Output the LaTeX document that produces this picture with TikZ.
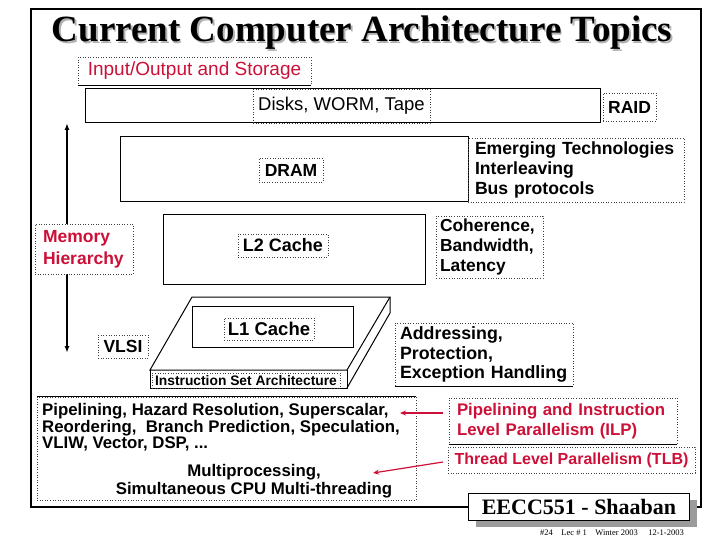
\documentclass[tikz,border=0pt]{standalone}
\usepackage{fontspec}
\setmainfont{Liberation Sans}
\newfontfamily\titlefont{Liberation Serif}
\usetikzlibrary{arrows.meta}
\definecolor{hred}{RGB}{204,16,56}
\definecolor{shadowgray}{RGB}{155,155,155}
\newcommand{\fsz}[2]{\fontsize{#1}{#2}\selectfont}
\begin{document}
\begin{tikzpicture}[x=1pt,y=-1pt,
  tbox/.style={draw=black!75, dotted, line width=0.6pt, inner sep=0pt},
  sbox/.style={draw=black, line width=1pt, inner sep=0pt},
  btxt/.style={font=\bfseries\fsz{17.5}{20}},
  redarrow/.style={draw=hred, line width=1.2pt, -{Stealth[length=6pt,width=5pt]}},
  ]
\useasboundingbox (0,0) rectangle (720,540);
% outer frame
\draw[line width=2.5pt] (31,507) -- (31,9) -- (701,9) -- (701,507) -- cycle;
% title (with light drop shadow)
\node[font=\titlefont\bfseries\fsz{37}{37}, anchor=base, text=black!30] (titleshadow) at (363.5,43.5) {Current Computer Architecture Topics};
\node[font=\titlefont\bfseries\fsz{37}{37}, anchor=base] (title) at (362,42) {Current Computer Architecture Topics};
% I/O
\node[tbox, minimum width=233pt, minimum height=28pt, text=hred, font=\fsz{19}{22}] (io) at (194.5,71) {Input/Output and Storage};
\draw[line width=0.6pt] (io.south west) -- (io.south east);
\node[sbox, minimum width=515pt, minimum height=34pt] (disksbox) at (342.5,106) {};
\node[tbox, minimum width=177pt, minimum height=34pt, font=\fsz{18.5}{20}] (disks) at (341.5,106) {Disks, WORM, Tape};
\node[tbox, minimum width=53pt, minimum height=28pt, btxt] (raid) at (629.5,107) {RAID};
% DRAM
\node[sbox, minimum width=348pt, minimum height=65pt] (drambox) at (294,169.5) {};
\node[tbox, minimum width=64pt, minimum height=24pt, btxt] (dram) at (291,170) {DRAM};
\node[tbox, minimum height=64pt, text width=202pt, inner xsep=7pt, align=left, font=\bfseries\fsz{17.6}{20}] (emerg) at (576,170) {Emerging Technologies\\Interleaving\\Bus protocols};
% vertical arrow
\coordinate (atop) at (67,123);
\coordinate (abot) at (67,353);
\draw[line width=1.8pt, {Latex[length=7pt,width=5pt]}-{Latex[length=7pt,width=5pt]}] (atop) -- (abot);
\node[tbox, fill=white, minimum height=50pt, text width=82pt, inner xsep=8pt, align=left, text=hred, font=\bfseries\fsz{17.5}{22}] (mem) at (84,249) {Memory\\Hierarchy};
% L2
\node[sbox, minimum width=262pt, minimum height=69pt] (l2box) at (294,249.5) {};
\node[tbox, minimum width=90pt, minimum height=23pt, font=\bfseries\fsz{18}{20}] (l2) at (283,245.5) {L2 Cache};
\node[tbox, minimum height=62pt, text width=99pt, inner xsep=4pt, align=left, font=\bfseries\fsz{17.4}{20}] (coh) at (489.5,247) {Coherence,\\Bandwidth,\\Latency};
% VLSI
\node[tbox, minimum width=50pt, minimum height=23pt, btxt] (vlsi) at (123,346.5) {VLSI};
% ISA slab
\draw[line width=1pt] (192,297) -- (390,297) -- (347,370) -- (150,370) -- cycle;
\draw[line width=1pt] (150,370) -- (150,388) -- (347,388) -- (347,370);
\draw[line width=1pt] (390,297) -- (390,313) -- (347,388);
\node[sbox, minimum width=161pt, minimum height=41pt] (l1box) at (272.5,326.5) {};
\node[tbox, minimum width=90pt, minimum height=22pt, font=\bfseries\fsz{18.5}{20}] (l1) at (269,329) {L1 Cache};
\node[tbox, minimum width=188pt, minimum height=15pt, font=\bfseries\fsz{13.8}{15}] (isa) at (246,380.5) {Instruction Set Architecture};
% Addressing
\node[tbox, minimum height=63pt, text width=168pt, inner xsep=5pt, align=left, font=\bfseries\fsz{17.8}{19.5}] (addr) at (484,354.5) {Addressing,\\Protection,\\Exception Handling};
\draw[line width=0.6pt] (addr.south west) -- (addr.south east);
% Pipelining block
\node[tbox, minimum width=379pt, minimum height=103pt] (pipebox) at (226.5,448.5) {};
\draw[line width=0.8pt] (pipebox.north west) -- (pipebox.north east);
\node[anchor=north west, inner sep=0pt, align=left, font=\bfseries\fsz{16.8}{14.6}] (pipeA) at (42,403) {Pipelining, Hazard Resolution, Superscalar,\\Reordering,\ \ Branch Prediction, Speculation,\\VLIW, Vector, DSP, ...};
\node[inner sep=0pt, align=center, font=\bfseries\fsz{16.8}{18}] (pipeB) at (254,481) {Multiprocessing,\\Simultaneous CPU Multi-threading};
% ILP and TLB
\node[tbox, minimum height=46pt, text width=212pt, inner xsep=8pt, align=left, text=hred, font=\bfseries\fsz{16.8}{20}] (ilp) at (563,421) {Pipelining and Instruction\\Level Parallelism (ILP)};
\draw[line width=0.6pt] (ilp.south west) -- (ilp.south east);
\node[tbox, minimum width=247pt, minimum height=26pt, text=hred, font=\bfseries\fsz{16}{18}] (tlb) at (571.5,460) {Thread Level Parallelism (TLB)};
\coordinate (r1s) at (443,413);
\coordinate (r1e) at (400,413);
\coordinate (r2s) at (443,462);
\coordinate (r2e) at (373,473);
\draw[redarrow] (r1s) -- (r1e);
\draw[redarrow] (r2s) -- (r2e);
% footer with drop shadow
\node[fill=shadowgray, draw=none, minimum width=221pt, minimum height=27pt, inner sep=0pt, anchor=north west] (footershadow) at (476,500) {};
\node[sbox, fill=white, minimum width=221pt, minimum height=27pt, anchor=north west, font=\titlefont\bfseries\fsz{22}{24}] (footer) at (468,493) {EECC551 - Shaaban};
\node[anchor=east, inner sep=0pt, font=\titlefont\fsz{8.5}{10}] (foot2) at (684,533) {\#24\quad Lec \# 1\quad Winter 2003\quad\ 12-1-2003};
\end{tikzpicture}
\end{document}
